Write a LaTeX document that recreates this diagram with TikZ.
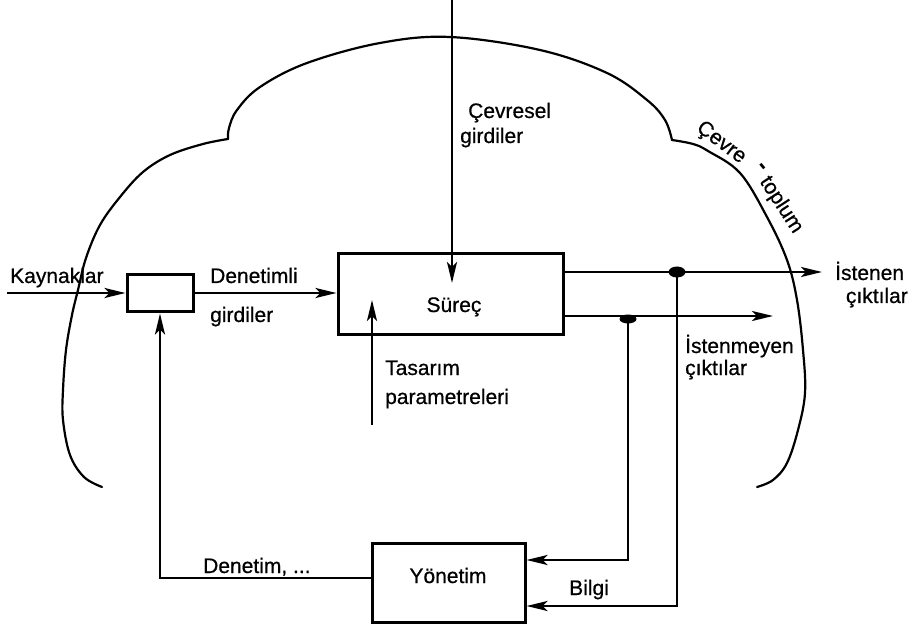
\documentclass[tikz,border=0pt]{standalone}
\usepackage{fontspec}
\setmainfont{Liberation Sans}
\newfontfamily\lblfont{Liberation Sans}[FakeBold=0.6]
\usetikzlibrary{arrows.meta,shapes.geometric}
\begin{document}
\begin{tikzpicture}[x=1pt,y=-1pt,
  lbl/.style={inner sep=0pt,font=\lblfont\fontsize{21}{25}\selectfont},
  box/.style={draw,line width=3pt,inner sep=0pt},
  conn/.style={line width=2.8pt},
  arr/.style={conn,-{Stealth[length=21pt,width=10pt,inset=5pt]}},
  cloud/.style={line width=2.2pt,line join=round,line cap=round},
  dot/.style={fill,ellipse,inner sep=0pt,minimum width=17pt,minimum height=11pt}]
\useasboundingbox (0,0) rectangle (913,628);

% cloud (environment - society)
\draw[cloud] plot[smooth,tension=0.6] coordinates {(102,487) (84,477) (70,455) (63,420) (63,390) (66,350) (72,315) (78,290) (86,258) (100,225) (120,197) (143,172) (170,155) (203,144) (228,139)};
\draw[cloud] plot[smooth,tension=0.6] coordinates {(228,139) (229,128) (237,110) (260,87) (307,63) (380,43) (450,37) (540,50) (607,73) (647,100) (665,120) (672,140)};
\draw[cloud] plot[smooth,tension=0.6] coordinates {(672,140) (693,144) (708,151) (740,173) (767,217) (787,260) (797,300) (803,350) (805,393) (798,430) (787,463) (773,480) (757,487)};

% boxes
\node[box,minimum width=66pt,minimum height=37pt] (small) at (160,293.5) {};
\node[box,minimum width=225pt,minimum height=81pt] (surec) at (450.5,294.5) {};
\node[box,minimum width=153pt,minimum height=79pt] (yon) at (448.5,582.5) {};

% texts
\node[lbl,anchor=base west] (kay) at (10,283) {Kaynaklar};
\node[lbl,anchor=base west] (den) at (210,283) {Denetimli};
\node[lbl,anchor=base west] (gir1) at (210,322) {girdiler};
\node[lbl,anchor=base] (surlbl) at (454,312) {Süreç};
\node[lbl,anchor=base west] (tas) at (385,375) {Tasarım};
\node[lbl,anchor=base west] (par) at (385,404) {parametreleri};
\node[lbl,anchor=base west] (cev) at (468,118) {Çevresel};
\node[lbl,anchor=base west] (gir2) at (460,143) {girdiler};
\node[lbl,anchor=base west] (ist) at (835,280) {İstenen};
\node[lbl,anchor=base east] (cik1) at (908,303) {çıktılar};
\node[lbl,anchor=base west] (istm) at (685,353) {İstenmeyen};
\node[lbl,anchor=base west] (cik2) at (685,375) {çıktılar};
\node[lbl,anchor=base] (yonlbl) at (448,583) {Yönetim};
\node[lbl,anchor=base west] (dnt) at (203,573) {Denetim, ...};
\node[lbl,anchor=base west] (bil) at (569,595) {Bilgi};
\node[lbl,rotate=-37] (cevre) at (721,143) {Çevre};
\node[lbl,rotate=-50,font=\bfseries\fontsize{24}{25}\selectfont] (dash) at (761,168) {-};
\node[lbl,rotate=-57] (toplum) at (781,205) {toplum};

% connectors
\coordinate (kin) at (7,293);
\draw[arr] (kin) -- (kin -| small.west);
\draw[arr] (kin -| small.east) -- (kin -| surec.west);
\coordinate (etop) at (452,0);
\coordinate (etip) at (452,283);
\draw[arr] (etop) -- (etip);
\coordinate (tbot) at (372,425);
\coordinate (ttip) at (372,300);
\draw[arr] (tbot) -- (ttip);
\coordinate (o1) at (822,272);
\coordinate (o2) at (773,316);
\draw[arr] (o1 -| surec.east) -- (o1);
\draw[arr] (o2 -| surec.east) -- (o2);
\node[dot] (d1) at (677,272) {};
\node[dot,minimum height=9pt] (d2) at (628,319) {};
\coordinate (y1) at ([yshift=22.5pt]yon.east);
\coordinate (y2) at ([yshift=-23.5pt]yon.east);
\draw[arr] (d2.center) |- (y1);
\draw[arr] (d1.center) |- (y2);
\draw[arr] ([yshift=4.5pt]yon.west) -| (small.south);
\end{tikzpicture}
\end{document}
